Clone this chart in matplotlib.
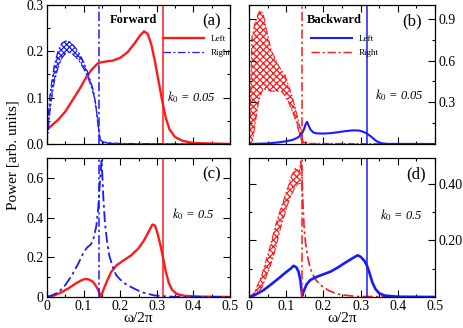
import matplotlib
matplotlib.use("Agg")
import matplotlib.pyplot as plt
from matplotlib.ticker import MultipleLocator, FixedLocator, FixedFormatter

plt.rcParams['font.family'] = ['Liberation Serif', 'DejaVu Serif']
plt.rcParams['mathtext.fontset'] = 'stix'
plt.rcParams['hatch.linewidth'] = 0.9

RED = '#ff1a1a'
BLUE = '#1a1aff'
DASHDOT = (0, (6, 2, 1.5, 2))

# ---------------- data ----------------
# (a) forward, k0 = 0.05
a_left_x = [0.0, 0.01, 0.03, 0.05, 0.07, 0.09, 0.11, 0.125, 0.14, 0.16, 0.18, 0.2, 0.22, 0.24, 0.255, 0.265, 0.275, 0.285, 0.295, 0.305, 0.315, 0.325, 0.335, 0.35, 0.37, 0.4, 0.45, 0.5]
a_left_y = [0.03, 0.038, 0.052, 0.07, 0.095, 0.12, 0.148, 0.163, 0.175, 0.178, 0.18, 0.186, 0.198, 0.218, 0.235, 0.243, 0.238, 0.215, 0.178, 0.135, 0.092, 0.055, 0.031, 0.015, 0.007, 0.002, 0.001, 0.0]
a_right_x = [0.0, 0.004, 0.008, 0.013, 0.02, 0.03, 0.04, 0.05, 0.06, 0.07, 0.08, 0.09, 0.1, 0.11, 0.12, 0.128, 0.134, 0.139, 0.143, 0.147, 0.155, 0.2, 0.5]
a_right_lo = [0.0, 0.035, 0.07, 0.1, 0.135, 0.165, 0.185, 0.195, 0.198, 0.194, 0.187, 0.177, 0.163, 0.147, 0.126, 0.105, 0.078, 0.043, 0.019, 0.006, 0.002, 0.0, 0.0]
a_right_hi = [0.0, 0.065, 0.105, 0.135, 0.17, 0.2, 0.217, 0.222, 0.222, 0.215, 0.205, 0.193, 0.177, 0.157, 0.134, 0.111, 0.082, 0.047, 0.021, 0.008, 0.004, 0.001, 0.0]

# (b) backward, k0 = 0.05
b_right_x = [0.0, 0.002, 0.008, 0.011, 0.015, 0.024, 0.029, 0.038, 0.047, 0.06, 0.078, 0.087, 0.096, 0.105, 0.114, 0.123, 0.127, 0.136, 0.139, 0.145, 0.16, 0.5]
b_right_lo = [0.0, 0.0, 0.02, 0.041, 0.12, 0.28, 0.34, 0.40, 0.39, 0.38, 0.38, 0.38, 0.35, 0.31, 0.25, 0.19, 0.16, 0.065, 0.04, 0.005, 0.0, 0.0]
b_right_hi = [0.0, 0.09, 0.77, 0.80, 0.86, 0.93, 0.96, 0.94, 0.82, 0.67, 0.57, 0.53, 0.50, 0.43, 0.36, 0.27, 0.23, 0.13, 0.11, 0.02, 0.005, 0.0]
b_left_x = [0.0, 0.05, 0.08, 0.1, 0.118, 0.13, 0.14, 0.147, 0.152, 0.156, 0.16, 0.165, 0.172, 0.18, 0.2, 0.22, 0.24, 0.26, 0.28, 0.295, 0.305, 0.315, 0.325, 0.335, 0.343, 0.355, 0.37, 0.5]
b_left_y = [0.0, 0.004, 0.012, 0.02, 0.03, 0.045, 0.065, 0.1, 0.14, 0.16, 0.135, 0.105, 0.085, 0.077, 0.075, 0.078, 0.085, 0.093, 0.098, 0.097, 0.09, 0.078, 0.06, 0.038, 0.02, 0.006, 0.001, 0.0]

# (c) forward, k0 = 0.5
c_left_x = [0.0, 0.02, 0.04, 0.06, 0.08, 0.095, 0.105, 0.115, 0.125, 0.133, 0.14, 0.145, 0.147, 0.15, 0.155, 0.165, 0.175, 0.19, 0.21, 0.23, 0.25, 0.265, 0.278, 0.288, 0.295, 0.302, 0.31, 0.318, 0.325, 0.333, 0.342, 0.355, 0.375, 0.42, 0.5]
c_left_y = [0.0, 0.008, 0.024, 0.045, 0.07, 0.085, 0.091, 0.088, 0.077, 0.058, 0.035, 0.012, 0.003, 0.015, 0.04, 0.085, 0.125, 0.16, 0.185, 0.21, 0.245, 0.285, 0.33, 0.365, 0.36, 0.32, 0.26, 0.19, 0.125, 0.07, 0.035, 0.015, 0.006, 0.002, 0.0]
c_right_x = [0.0, 0.0135, 0.032, 0.05, 0.068, 0.086, 0.1, 0.11, 0.12, 0.128, 0.135, 0.14, 0.144, 0.147, 0.149, 0.151, 0.154, 0.158, 0.164, 0.17, 0.178, 0.189, 0.2, 0.215, 0.23, 0.257, 0.293, 0.329, 0.35, 0.5]
c_right_y = [0.0, 0.008, 0.025, 0.06, 0.11, 0.17, 0.225, 0.25, 0.265, 0.30, 0.36, 0.45, 0.56, 0.64, 0.69, 0.62, 0.5, 0.38, 0.28, 0.21, 0.16, 0.11, 0.088, 0.065, 0.05, 0.025, 0.008, 0.003, 0.001, 0.0]

# (d) backward, k0 = 0.5
d_right_x = [0.0, 0.007, 0.016, 0.025, 0.035, 0.044, 0.053, 0.062, 0.071, 0.08, 0.089, 0.098, 0.107, 0.112, 0.125, 0.135, 0.139]
d_right_lo = [0.0, 0.0, 0.004, 0.02, 0.034, 0.065, 0.095, 0.13, 0.168, 0.22, 0.265, 0.30, 0.34, 0.355, 0.39, 0.40, 0.40]
d_right_hi = [0.0, 0.004, 0.02, 0.047, 0.08, 0.12, 0.16, 0.205, 0.25, 0.29, 0.325, 0.36, 0.395, 0.42, 0.455, 0.44, 0.48]
d_tail_x = [0.139, 0.142, 0.145, 0.148, 0.152, 0.157, 0.164, 0.171, 0.18, 0.189, 0.2, 0.216, 0.235, 0.253, 0.289, 0.5]
d_tail_y = [0.48, 0.44, 0.33, 0.25, 0.19, 0.145, 0.105, 0.08, 0.06, 0.046, 0.034, 0.022, 0.012, 0.007, 0.002, 0.0]
d_left_x = [0.0, 0.02, 0.04, 0.06, 0.08, 0.1, 0.112, 0.12, 0.127, 0.133, 0.138, 0.141, 0.143, 0.147, 0.155, 0.165, 0.18, 0.2, 0.22, 0.24, 0.26, 0.28, 0.292, 0.3, 0.31, 0.318, 0.325, 0.332, 0.34, 0.35, 0.365, 0.4, 0.5]
d_left_y = [0.0, 0.01, 0.025, 0.045, 0.066, 0.088, 0.1, 0.11, 0.105, 0.09, 0.06, 0.025, 0.004, 0.02, 0.045, 0.06, 0.07, 0.08, 0.09, 0.105, 0.122, 0.138, 0.147, 0.142, 0.128, 0.108, 0.08, 0.05, 0.028, 0.013, 0.005, 0.001, 0.0]

x_ticks = [0, 0.1, 0.2, 0.3, 0.4, 0.5]
x_ticklabels = ['0', '0.1', '0.2', '0.3', '0.4', '0.5']
omega_lo = 0.142   # dash-dot marker line
omega_hi = 0.318   # solid marker line

# ---------------- figure ----------------
fig = plt.figure(figsize=(4.63, 3.28), dpi=100)
W, H = 463, 328
def pos(x0, y0, x1, y1):
    return [x0 / W, 1 - y1 / H, (x1 - x0) / W, (y1 - y0) / H]

axa = fig.add_axes(pos(47, 5, 230, 144))
axb = fig.add_axes(pos(249, 5, 435, 144))
axc = fig.add_axes(pos(47, 158, 230, 297))
axd = fig.add_axes(pos(249, 158, 435, 297))

lw = 1.1
for ax in (axa, axb, axc, axd):
    ax.set_xlim(0, 0.5)
    ax.xaxis.set_major_locator(FixedLocator(x_ticks))
    ax.xaxis.set_minor_locator(MultipleLocator(0.05))
    ax.tick_params(which='both', direction='in', top=True, right=True, labelsize=10, width=0.8, pad=2.5)
    ax.tick_params(which='major', length=5)
    ax.tick_params(which='minor', length=2.5)
    for s in ax.spines.values():
        s.set_linewidth(0.9)

for ax in (axa, axb):
    ax.tick_params(labelbottom=False)
for ax in (axc, axd):
    ax.xaxis.set_major_formatter(FixedFormatter(x_ticklabels))
    ax.set_xlabel('ω/2π', fontsize=11, labelpad=-1)
for ax in (axb, axd):
    ax.yaxis.tick_right()
    ax.tick_params(which='both', left=True, right=True, labelleft=False, labelright=True)

# (a)
axa.set_ylim(0, 0.3)
axa.yaxis.set_major_locator(FixedLocator([0, 0.1, 0.2, 0.3]))
axa.yaxis.set_major_formatter(FixedFormatter(['0.0', '0.1', '0.2', '0.3']))
axa.yaxis.set_minor_locator(MultipleLocator(0.05))
axa.plot(a_left_x, a_left_y, color=RED, lw=1.7, label='Left')
axa.fill_between(a_right_x, a_right_lo, a_right_hi, facecolor='none', edgecolor=BLUE, hatch='xxxxxx', lw=0)
axa.plot(a_right_x, a_right_lo, color=BLUE, lw=0.9, linestyle=DASHDOT)
axa.plot(a_right_x, a_right_hi, color=BLUE, lw=0.9, linestyle=DASHDOT, label='Right')
axa.axvline(omega_lo, color=BLUE, lw=lw, linestyle=DASHDOT)
axa.axvline(omega_hi, color=RED, lw=lw)
axa.legend(loc='upper left', bbox_to_anchor=(0.6, 0.83), frameon=False, fontsize=6.5, handlelength=4.5, labelspacing=0.6, borderpad=0.2)
axa.text(0.47, 0.89, 'Forward', transform=axa.transAxes, ha='center', va='center', fontsize=9, fontweight='bold')
axa.text(0.9, 0.885, '(a)', transform=axa.transAxes, ha='center', va='center', fontsize=12)
axa.text(0.79, 0.34, r'$k_0$ = 0.05', transform=axa.transAxes, ha='center', va='center', fontsize=9, style='italic')

# (b)
axb.set_ylim(0, 1.0)
axb.yaxis.set_major_locator(FixedLocator([0.3, 0.6, 0.9]))
axb.yaxis.set_major_formatter(FixedFormatter(['0.3', '0.6', '0.9']))
axb.yaxis.set_minor_locator(MultipleLocator(0.15))
axb.fill_between(b_right_x, b_right_lo, b_right_hi, facecolor='none', edgecolor=RED, hatch='xxxxx', lw=0)
axb.plot(b_right_x, b_right_hi, color=RED, lw=0.8, linestyle=DASHDOT)
axb.plot(b_right_x, b_right_lo, color=RED, lw=0.8, linestyle=DASHDOT)
axb.plot(b_left_x, b_left_y, color=BLUE, lw=1.5, label='Left')
axb.plot([], [], color=RED, lw=1.0, linestyle=DASHDOT, label='Right')
axb.axvline(omega_lo, color=RED, lw=lw, linestyle=DASHDOT)
axb.axvline(omega_hi, color=BLUE, lw=lw)
axb.legend(loc='upper left', bbox_to_anchor=(0.3, 0.83), frameon=False, fontsize=6.5, handlelength=4.5, labelspacing=0.6, borderpad=0.2)
axb.text(0.46, 0.89, 'Backward', transform=axb.transAxes, ha='center', va='center', fontsize=9, fontweight='bold')
axb.text(0.875, 0.885, '(b)', transform=axb.transAxes, ha='center', va='center', fontsize=12)
axb.text(0.81, 0.35, r'$k_0$ = 0.05', transform=axb.transAxes, ha='center', va='center', fontsize=9, style='italic')

# (c)
axc.set_ylim(0, 0.7)
axc.yaxis.set_major_locator(FixedLocator([0, 0.2, 0.4, 0.6]))
axc.yaxis.set_major_formatter(FixedFormatter(['0', '0.2', '0.4', '0.6']))
axc.yaxis.set_minor_locator(MultipleLocator(0.1))
axc.plot(c_left_x, c_left_y, color=RED, lw=1.7)
axc.plot(c_right_x, c_right_y, color=BLUE, lw=1.3, linestyle=DASHDOT)
axc.axvline(omega_lo, color=BLUE, lw=lw, linestyle=DASHDOT)
axc.axvline(omega_hi, color=RED, lw=lw)
axc.text(0.9, 0.885, '(c)', transform=axc.transAxes, ha='center', va='center', fontsize=12)
axc.text(0.80, 0.60, r'$k_0$ = 0.5', transform=axc.transAxes, ha='center', va='center', fontsize=9, style='italic')

# (d)
axd.set_ylim(0, 0.49)
axd.yaxis.set_major_locator(FixedLocator([0.2, 0.4]))
axd.yaxis.set_major_formatter(FixedFormatter(['0.20', '0.40']))
axd.yaxis.set_minor_locator(MultipleLocator(0.1))
axd.fill_between(d_right_x, d_right_lo, d_right_hi, facecolor='none', edgecolor=RED, hatch='xxxxx', lw=0)
axd.plot(d_right_x, d_right_lo, color=RED, lw=0.8, linestyle=DASHDOT)
axd.plot(d_right_x, d_right_hi, color=RED, lw=0.8, linestyle=DASHDOT)
axd.plot(d_tail_x, d_tail_y, color=RED, lw=1.2, linestyle=DASHDOT)
axd.plot(d_left_x, d_left_y, color=BLUE, lw=1.9)
axd.axvline(omega_lo, color=RED, lw=lw, linestyle=DASHDOT)
axd.axvline(omega_hi, color=BLUE, lw=lw)
axd.text(0.9, 0.88, '(d)', transform=axd.transAxes, ha='center', va='center', fontsize=12)
axd.text(0.82, 0.59, r'$k_0$ = 0.5', transform=axd.transAxes, ha='center', va='center', fontsize=9, style='italic')

fig.text(0.027, 0.527, 'Power [arb. units]', rotation=90, ha='center', va='center', fontsize=11)

fig.savefig('out.png', dpi=100)
